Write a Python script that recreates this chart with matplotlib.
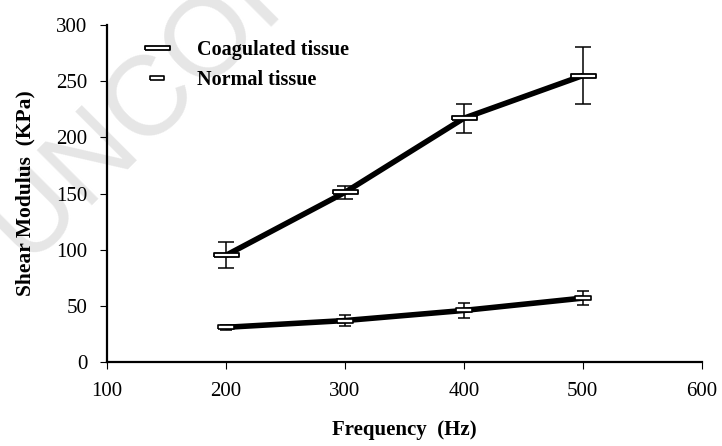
import matplotlib
matplotlib.use("Agg")
import matplotlib.pyplot as plt
from matplotlib.lines import Line2D

# data
freq = [200, 300, 400, 500]
coag = [95, 151, 217, 255]
coag_err = [11.5, 6, 13, 25]
normal = [31, 37, 46, 57]
normal_err = [2, 5, 6.5, 6.5]
x_ticks = [100, 200, 300, 400, 500, 600]
y_ticks = [0, 50, 100, 150, 200, 250, 300]

plt.rcParams['font.family'] = ['Liberation Serif', 'DejaVu Serif']

fig = plt.figure(figsize=(7.22, 4.46), dpi=100)
ax = fig.add_axes([0.148, 0.188, 0.824, 0.756])
ax.patch.set_alpha(0)
ax.set_zorder(2)

# faint watermark of the scanned proof
fig.text(0.035, 0.41, "UNCOR", rotation=45, rotation_mode='anchor',
         ha='left', va='baseline', fontsize=82, color='#e6e6e6',
         family='Liberation Sans', zorder=0)

big_box = [(-1, -0.14), (1, -0.14), (1, 0.14), (-1, 0.14), (-1, -0.14)]
small_box = [(-1, -0.3), (1, -0.3), (1, 0.3), (-1, 0.3), (-1, -0.3)]

ax.errorbar(freq, coag, yerr=coag_err, color='black', lw=0, elinewidth=1.1,
            capsize=6, capthick=1.1, zorder=2)
ax.plot(freq, coag, color='black', lw=4, solid_capstyle='butt', zorder=3)
ax.plot(freq, coag, ls='none', marker=big_box, markersize=18, mfc='white',
        mec='black', mew=1.3, zorder=4)

ax.errorbar(freq, normal, yerr=normal_err, color='black', lw=0, elinewidth=1.1,
            capsize=4, capthick=1.1, zorder=2)
ax.plot(freq, normal, color='black', lw=4, solid_capstyle='butt', zorder=3)
ax.plot(freq, normal, ls='none', marker=small_box, markersize=11, mfc='white',
        mec='black', mew=1.2, zorder=4)

handles = [Line2D([], [], ls='none', marker=big_box, markersize=18, mfc='white', mec='black', mew=1.3),
           Line2D([], [], ls='none', marker=small_box, markersize=10, mfc='white', mec='black', mew=1.2)]
ax.legend(handles, ['Coagulated tissue', 'Normal tissue'], loc='upper left',
          bbox_to_anchor=(0.02, 1.01), frameon=False, handlelength=2.0,
          handletextpad=1.0, labelspacing=0.5,
          prop={'family': 'Liberation Serif', 'weight': 'bold', 'size': 14.5})

ax.set_xlim(100, 600)
ax.set_ylim(0, 300)
ax.set_xticks(x_ticks)
ax.set_yticks(y_ticks)
ax.tick_params(labelsize=15, length=5, width=0.8)
ax.tick_params(axis='x', pad=9)
ax.tick_params(axis='y', pad=9)
for s in ['top', 'right']:
    ax.spines[s].set_visible(False)
for s in ['left', 'bottom']:
    ax.spines[s].set_linewidth(1.6)

ax.set_xlabel('Frequency  (Hz)', fontsize=15, fontweight='bold', labelpad=14)
ax.set_ylabel('Shear Modulus  (KPa)', fontsize=15.5, fontweight='bold', labelpad=15)

fig.savefig('out.png', dpi=100)
